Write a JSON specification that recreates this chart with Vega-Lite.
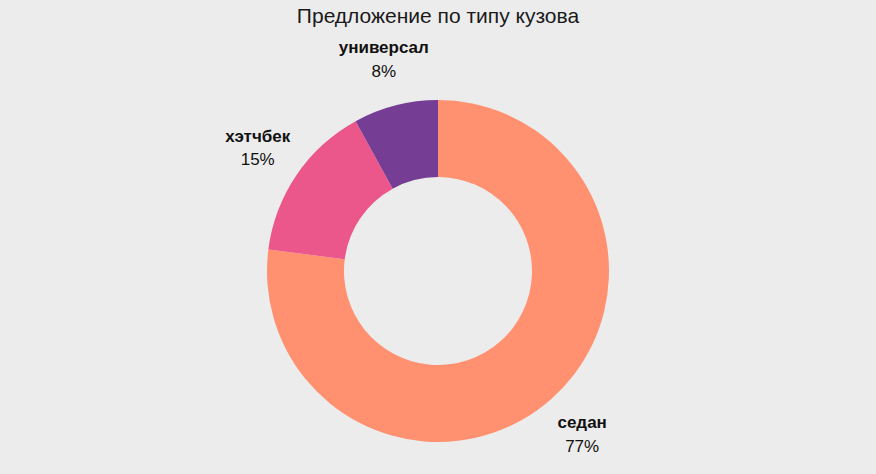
{
  "$schema": "https://vega.github.io/schema/vega-lite/v6.json",
  "width": 876,
  "height": 406,
  "autosize": "none",
  "padding": {"top": 68, "left": 0, "right": 0, "bottom": 0},
  "background": "#ECECEC",
  "title": {
    "text": "Предложение по типу кузова",
    "font": "Liberation Sans",
    "fontSize": 21,
    "fontWeight": "normal",
    "color": "#1a1a1a",
    "anchor": "middle",
    "frame": "group",
    "offset": 12
  },
  "data": {
    "values": [
      {"type": "седан", "pct": 77, "label": "77%", "idx": 1},
      {"type": "хэтчбек", "pct": 15, "label": "15%", "idx": 2},
      {"type": "универсал", "pct": 8, "label": "8%", "idx": 3}
    ]
  },
  "encoding": {
    "theta": {"field": "pct", "type": "quantitative", "stack": true},
    "order": {"field": "idx", "type": "quantitative"}
  },
  "layer": [
    {
      "mark": {"type": "arc", "outerRadius": 171, "innerRadius": 94},
      "encoding": {
        "color": {
          "field": "type",
          "type": "nominal",
          "scale": {"domain": ["седан", "хэтчбек", "универсал"], "range": ["#FF9171", "#EB578A", "#763D95"]},
          "legend": null
        }
      }
    },
    {
      "mark": {"type": "text", "radius": 218, "dy": -11.5, "font": "Liberation Sans", "fontSize": 17, "fontWeight": "bold", "color": "#111111"},
      "encoding": {"text": {"field": "type"}}
    },
    {
      "mark": {"type": "text", "radius": 218, "dy": 12, "font": "Liberation Sans", "fontSize": 17, "fontWeight": "normal", "color": "#111111"},
      "encoding": {"text": {"field": "label"}}
    }
  ],
  "config": {"view": {"stroke": null}}
}
